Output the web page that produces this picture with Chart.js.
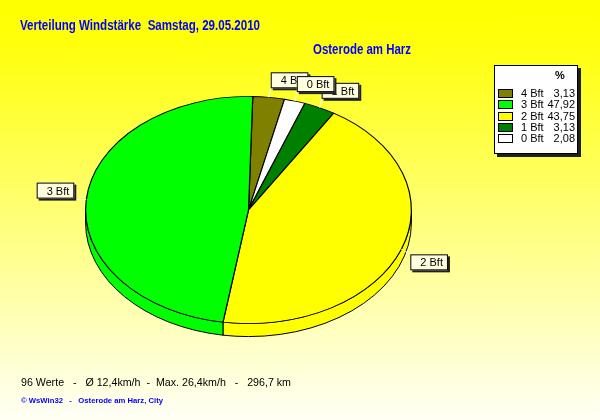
<!DOCTYPE html>
<html>
<head>
<meta charset="utf-8">
<script src="https://cdn.jsdelivr.net/npm/chart.js@4/dist/chart.umd.min.js"></script>
<style>
html, body { margin: 0; padding: 0; }
body { width: 600px; height: 420px; background: linear-gradient(#ffff00 0%, #ffff0a 10%, #fffff6 100%); }
canvas { display: block; }
</style>
</head>
<body>
<canvas id="windChart" width="600" height="420"></canvas>
<script>
// slices in drawing order, clockwise from the top
const sliceLabels = ['4 Bft', '0 Bft', '1 Bft', '2 Bft', '3 Bft'];
const sliceValues = [3.13, 2.08, 3.13, 43.75, 47.92];
const sliceColors = ['#808000', '#ffffff', '#008000', '#ffff00', '#00ff00'];
// legend lists them top-down from 4 to 0 Bft
const legendLabels = ['4 Bft', '3 Bft', '2 Bft', '1 Bft', '0 Bft'];

const titleText = 'Verteilung Windstärke  Samstag, 29.05.2010';
const stationText = 'Osterode am Harz';
const statsText = '96 Werte   -   Ø 12,4km/h  -  Max. 26,4km/h   -   296,7 km';
const creditText = '© WsWin32   -   Osterode am Harz, City';

const TILT = 114 / 163.5;  // squash of the pie top
const DEPTH = 13;          // height of the side wall
const FONT = '"Liberation Sans", Arial, sans-serif';

function fitText(ctx, text, x, y, width) {
    const w = ctx.measureText(text).width;
    ctx.save();
    ctx.translate(x, y);
    ctx.scale(width / w, 1);
    ctx.fillText(text, 0, 0);
    ctx.restore();
}

function fmt(v) {
    return v.toFixed(2).replace('.', ',');
}

const pie3d = {
    id: 'pie3d',
    beforeDatasetsDraw(chart) {
        const ctx = chart.ctx;
        const arcs = chart.getDatasetMeta(0).data;
        const cx = arcs[0].x, cy = arcs[0].y;
        const rx = arcs[0].outerRadius, ry = rx * TILT;
        // front part of the side wall (canvas angles 0..PI)
        arcs.forEach((a, i) => {
            [0, 2 * Math.PI, -2 * Math.PI].forEach(off => {
                const s = Math.max(a.startAngle + off, 0);
                const e = Math.min(a.endAngle + off, Math.PI);
                if (e <= s) return;
                ctx.beginPath();
                ctx.ellipse(cx, cy + DEPTH, rx, ry, 0, s, e);
                ctx.ellipse(cx, cy, rx, ry, 0, e, s, true);
                ctx.closePath();
                ctx.fillStyle = sliceColors[i];
                ctx.fill();
                ctx.strokeStyle = '#000';
                ctx.lineWidth = 1;
                ctx.stroke();
            });
        });
        ctx.save();
        ctx.translate(cx, cy);
        ctx.scale(1, TILT);
        ctx.translate(-cx, -cy);
    },
    afterDatasetsDraw(chart) {
        const ctx = chart.ctx;
        ctx.restore();
        const arcs = chart.getDatasetMeta(0).data;
        const cx = arcs[0].x, cy = arcs[0].y;
        const rx = arcs[0].outerRadius, ry = rx * TILT;

        ctx.font = '11px ' + FONT;
        const boxes = arcs.map((a, i) => {
            const mid = (a.startAngle + a.endAngle) / 2;
            const ax = cx + rx * Math.cos(mid), ay = cy + ry * Math.sin(mid);
            const w = ctx.measureText(sliceLabels[i]).width + 15, h = 16;
            let bx, by, lx, ly;
            if (Math.cos(mid) < -0.5) {
                bx = ax - 12 - w; by = ay - 1 - h; lx = ax - 12; ly = ay;
            } else if (Math.sin(mid) > 0.3) {
                bx = ax + 9; by = ay + 5; lx = bx; ly = by;
            } else {
                bx = ax + 2; by = ay - 9 - h; lx = bx; ly = ay - 9;
            }
            return { i, ax, ay, bx, by, w, h, lx, ly };
        });

        // leader lines
        ctx.strokeStyle = '#ffffff';
        ctx.lineWidth = 1;
        boxes.forEach(b => {
            ctx.beginPath();
            ctx.moveTo(b.ax, b.ay);
            ctx.lineTo(b.lx, b.ly);
            ctx.stroke();
        });

        // 0 Bft box sits on top of its neighbours
        [0, 2, 3, 4, 1].forEach(k => {
            const b = boxes[k];
            ctx.fillStyle = '#202020';
            ctx.fillRect(b.bx + 2, b.by + 2, b.w, b.h);
            ctx.fillStyle = '#ffffe0';
            ctx.fillRect(b.bx, b.by, b.w, b.h);
            ctx.strokeStyle = '#000';
            ctx.strokeRect(b.bx + 0.5, b.by + 0.5, b.w - 1, b.h - 1);
            ctx.fillStyle = '#000';
            ctx.textBaseline = 'middle';
            ctx.textAlign = 'left';
            ctx.fillText(sliceLabels[b.i], b.bx + 10, b.by + b.h / 2 + 1);
        });
    },
    afterDraw(chart) {
        const ctx = chart.ctx;
        ctx.save();
        ctx.textBaseline = 'alphabetic';
        ctx.textAlign = 'left';

        // titles
        ctx.fillStyle = '#0000ff';
        ctx.font = 'bold 14px ' + FONT;
        fitText(ctx, titleText, 20, 30, 240);
        fitText(ctx, stationText, 313, 54, 98);

        // footer
        ctx.fillStyle = '#000';
        ctx.font = '11px ' + FONT;
        fitText(ctx, statsText, 21, 386, 270);
        ctx.fillStyle = '#0000ff';
        ctx.font = 'bold 8px ' + FONT;
        fitText(ctx, creditText, 21, 403, 142);

        // legend box
        const lx = 494, ly = 65, lw = 84, lh = 89;
        ctx.fillStyle = '#202020';
        ctx.fillRect(lx + 3, ly + 3, lw, lh);
        ctx.fillStyle = '#ffffff';
        ctx.fillRect(lx, ly, lw, lh);
        ctx.strokeStyle = '#000';
        ctx.lineWidth = 1;
        ctx.strokeRect(lx + 0.5, ly + 0.5, lw - 1, lh - 1);

        ctx.fillStyle = '#000';
        ctx.font = 'bold 11px ' + FONT;
        ctx.textBaseline = 'middle';
        ctx.textAlign = 'center';
        ctx.fillText('%', 560, 76);

        ctx.font = '11px ' + FONT;
        legendLabels.forEach((lab, r) => {
            const k = sliceLabels.indexOf(lab);
            const y = 93 + r * 11.3;
            ctx.fillStyle = sliceColors[k];
            ctx.fillRect(498, Math.round(y) - 4, 15, 9);
            ctx.strokeStyle = '#000';
            ctx.strokeRect(498.5, Math.round(y) - 3.5, 14, 8);
            ctx.fillStyle = '#000';
            ctx.textAlign = 'left';
            ctx.fillText(lab, 521, y + 1);
            ctx.textAlign = 'right';
            ctx.fillText(fmt(sliceValues[k]), 575, y + 1);
        });
        ctx.restore();
    }
};

const ctx = document.getElementById('windChart').getContext('2d');
new Chart(ctx, {
    type: 'pie',
    data: {
        labels: sliceLabels,
        datasets: [{
            data: sliceValues,
            backgroundColor: sliceColors,
            borderColor: '#000000',
            borderWidth: 1.2,
            clip: false
        }]
    },
    options: {
        responsive: false,
        animation: false,
        devicePixelRatio: 1,
        events: [],
        rotation: 1.5,
        layout: {
            padding: { left: 85, right: 188, top: 46.5, bottom: 46.5 }
        },
        plugins: {
            legend: { display: false },
            title: { display: false },
            tooltip: { enabled: false }
        }
    },
    plugins: [pie3d]
});
</script>
</body>
</html>
